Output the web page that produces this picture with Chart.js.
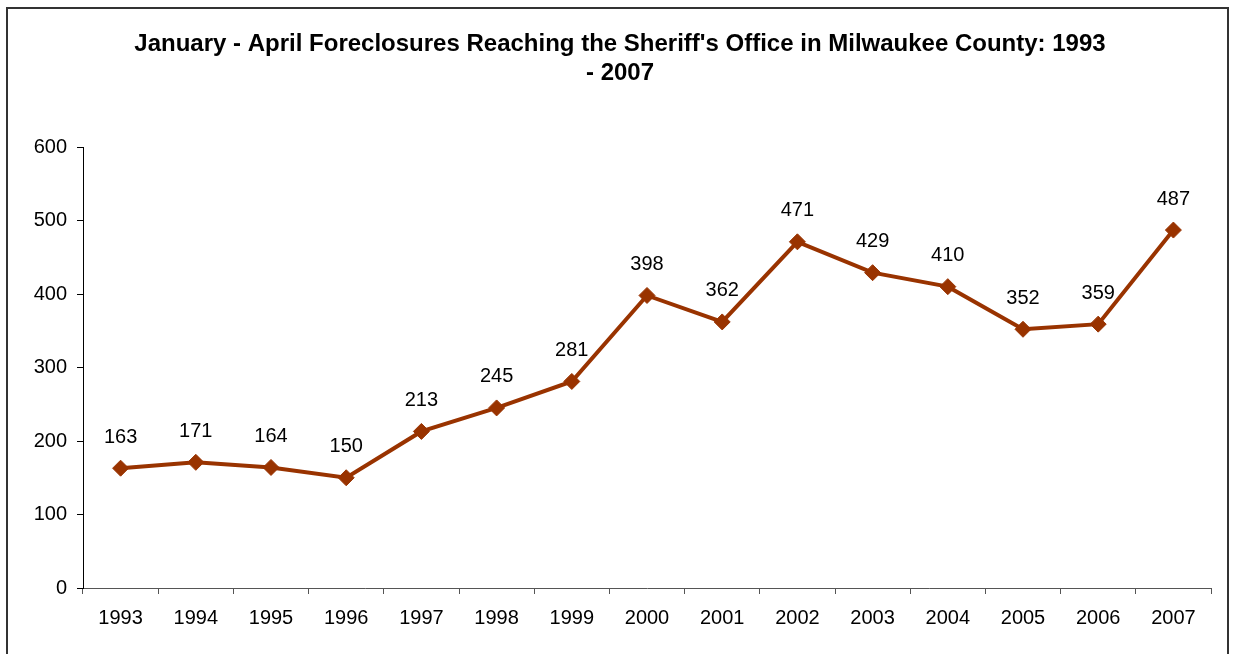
<!DOCTYPE html>
<html>
<head>
<meta charset="utf-8">
<script src="https://cdn.jsdelivr.net/npm/chart.js@4"></script>
<style>
  html, body { margin: 0; padding: 0; background: #fff; }
  #wrap { position: relative; width: 1233px; height: 654px; overflow: hidden; }
  #frame { position: absolute; left: 6px; top: 7px; width: 1223px; height: 700px; border: 2px solid #333; box-sizing: border-box; }
  canvas { position: absolute; left: 0; top: 0; }
</style>
</head>
<body>
<div id="wrap">
  <div id="frame"></div>
  <canvas id="c" width="1233" height="654"></canvas>
</div>
<script>
const titleLines = ["January - April Foreclosures Reaching the Sheriff's Office in Milwaukee County: 1993", "- 2007"];
const years = ["1993","1994","1995","1996","1997","1998","1999","2000","2001","2002","2003","2004","2005","2006","2007"];
const foreclosures = [163,171,164,150,213,245,281,398,362,471,429,410,352,359,487];
const yTicks = [0,100,200,300,400,500,600];

const FONT = "'Liberation Sans', Arial, sans-serif";

const valueLabels = {
  id: 'valueLabels',
  afterDatasetsDraw(chart) {
    const ctx = chart.ctx;
    const meta = chart.getDatasetMeta(0);
    ctx.save();
    ctx.font = "20px " + FONT;
    ctx.fillStyle = '#000';
    ctx.textAlign = 'center';
    ctx.textBaseline = 'middle';
    meta.data.forEach((pt, i) => {
      ctx.fillText(String(chart.data.datasets[0].data[i]), pt.x, pt.y - 31);
    });
    ctx.restore();
  }
};

new Chart(document.getElementById('c'), {
  type: 'line',
  data: {
    labels: years,
    datasets: [{
      data: foreclosures,
      borderColor: '#993300',
      backgroundColor: '#993300',
      borderWidth: 4,
      pointStyle: 'rectRot',
      pointRadius: 8,
      pointHoverRadius: 8,
      pointBorderWidth: 1,
      tension: 0,
      fill: false
    }]
  },
  options: {
    responsive: false,
    animation: false,
    events: [],
    layout: { padding: { top: 0, left: 29, right: 22, bottom: 0 } },
    plugins: {
      legend: { display: false },
      tooltip: { enabled: false },
      title: {
        display: true,
        text: titleLines,
        color: '#000',
        font: { family: FONT, size: 24, weight: 'bold', lineHeight: 29 / 24 },
        padding: { top: 29.5, bottom: 59.5 }
      }
    },
    scales: {
      x: {
        type: 'category',
        offset: true,
        grid: { offset: true, drawOnChartArea: false, drawTicks: true, tickLength: 6, color: '#555' },
        border: { display: true, color: '#555', width: 1 },
        ticks: { color: '#000', font: { family: FONT, size: 20 }, padding: 12, maxRotation: 0, autoSkip: false },
        afterFit(s) { s.height = 66; }
      },
      y: {
        min: 0,
        max: 600,
        afterBuildTicks(s) { s.ticks = yTicks.map(v => ({ value: v })); },
        grid: { drawOnChartArea: false, drawTicks: true, tickLength: 6, color: '#000' },
        border: { display: true, color: '#000', width: 1 },
        ticks: { color: '#000', font: { family: FONT, size: 20 }, padding: 10 },
        afterFit(s) { s.width = 54; }
      }
    }
  },
  plugins: [valueLabels]
});
</script>
</body>
</html>
